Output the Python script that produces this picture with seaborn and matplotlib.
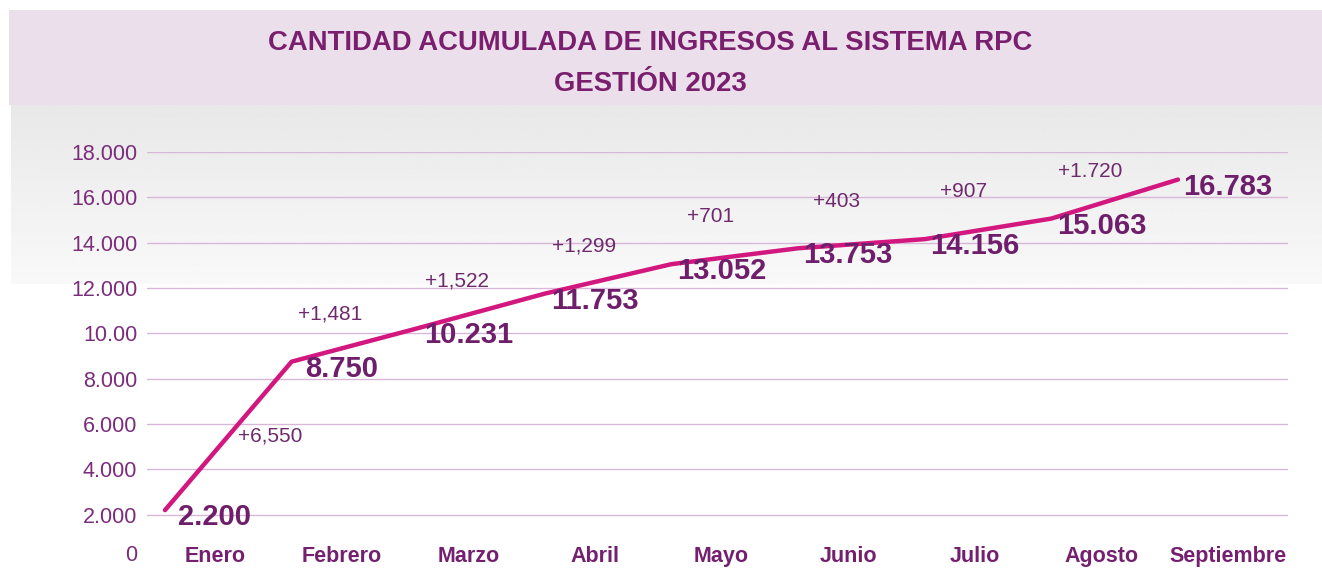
import numpy as np
import pandas as pd
import seaborn as sns
import matplotlib.pyplot as plt
from matplotlib.patches import Rectangle
from matplotlib.transforms import offset_copy, ScaledTranslation

# Data
meses = ["Enero", "Febrero", "Marzo", "Abril", "Mayo", "Junio", "Julio", "Agosto", "Septiembre"]
acumulado = [2200, 8750, 10231, 11753, 13052, 13753, 14156, 15063, 16783]
incrementos = ["+6,550", "+1,481", "+1,522", "+1,299", "+701", "+403", "+907", "+1.720"]
y_ticks = [0, 2000, 4000, 6000, 8000, 10000, 12000, 14000, 16000, 18000]
y_labels = ["0", "2.000", "4.000", "6.000", "8.000", "10.00", "12.000", "14.000", "16.000", "18.000"]

df = pd.DataFrame({"idx": np.arange(len(meses)), "valor": acumulado})

sns.set_style("white")
plt.rcParams["font.family"] = ["Liberation Sans", "DejaVu Sans"]

W, H = 1322, 570
fig = plt.figure(figsize=(W / 100, H / 100), dpi=100)
fig.patch.set_facecolor("white")

# title band
fig.patches.append(Rectangle((9 / W, 1 - 105 / H), 1, 95 / H, transform=fig.transFigure,
                             facecolor="#ECDFEC", edgecolor="none", zorder=0))
# gray gradient under the title
bg = fig.add_axes([11 / W, 1 - 284 / H, 1 - 11 / W, (284 - 105) / H], zorder=-1)
grad = np.linspace(0.91, 0.975, 100).reshape(-1, 1)
bg.imshow(np.repeat(grad, 2, axis=1), cmap="gray", vmin=0, vmax=1, aspect="auto",
          interpolation="bilinear", extent=(0, 1, 0, 1))
bg.axis("off")

fig.text(650 / W, 1 - 43 / H, "CANTIDAD ACUMULADA DE INGRESOS AL SISTEMA RPC", ha="center",
         va="center", fontsize=19.8, weight="bold", color="#7A1F6E")
fig.text(650 / W, 1 - 84 / H, "GESTIÓN 2023", ha="center", va="center", fontsize=19.8,
         weight="bold", color="#7A1F6E")

ax = fig.add_axes([147 / W, 1 - 560 / H, (1288 - 147) / W, (560 - 152) / H])
ax.set_facecolor("none")

sns.lineplot(data=df, x="idx", y="valor", ax=ax, color="#D2187F", linewidth=3.2)
line = ax.lines[0]
line.set_transform(offset_copy(ax.transData, fig=fig, x=-36, y=0, units="points"))
line.set_solid_joinstyle("round")

ax.set_xlim(-0.537, 8.474)
ax.set_ylim(0, 18000)
ax.set_yticks(y_ticks)
ax.set_yticklabels(y_labels, fontsize=15.5, color="#7B2D7B")
ax.set_xticks(np.arange(len(meses)))
ax.set_xticklabels(meses, fontsize=15.5, weight="bold", color="#74206F")
ax.tick_params(axis="x", length=0, pad=-10)
ax.tick_params(axis="y", length=0, pad=7)
ax.set_xlabel("")
ax.set_ylabel("")
ax.grid(axis="y", color="#D8B8D8", linewidth=1)
ax.grid(axis="x", visible=False)
ax.yaxis.get_gridlines()[0].set_visible(False)
for s in ax.spines.values():
    s.set_visible(False)
# lift the "0" label so it stays inside the picture
zero = ax.get_yticklabels()[0]
zero.set_transform(zero.get_transform() + ScaledTranslation(0, 5 / 72, fig.dpi_scale_trans))

# value labels
for i, v in enumerate(acumulado):
    ax.annotate(f"{v:,}".replace(",", "."), (i, v), xytext=(0, -5), textcoords="offset points",
                ha="center", va="center", fontsize=21, weight="bold", color="#6E1E6A")

# increment labels
ax.annotate(incrementos[0], (0.5, (acumulado[0] + acumulado[1]) / 2), xytext=(-6, 0),
            textcoords="offset points", ha="center", va="center", fontsize=15, color="#6E2A6C")
for k in range(1, len(incrementos)):
    ax.annotate(incrementos[k], (k, acumulado[k]), xytext=(-8, 34), textcoords="offset points",
                ha="center", va="center", fontsize=15, color="#6E2A6C")

fig.savefig("out.png", dpi=100)
